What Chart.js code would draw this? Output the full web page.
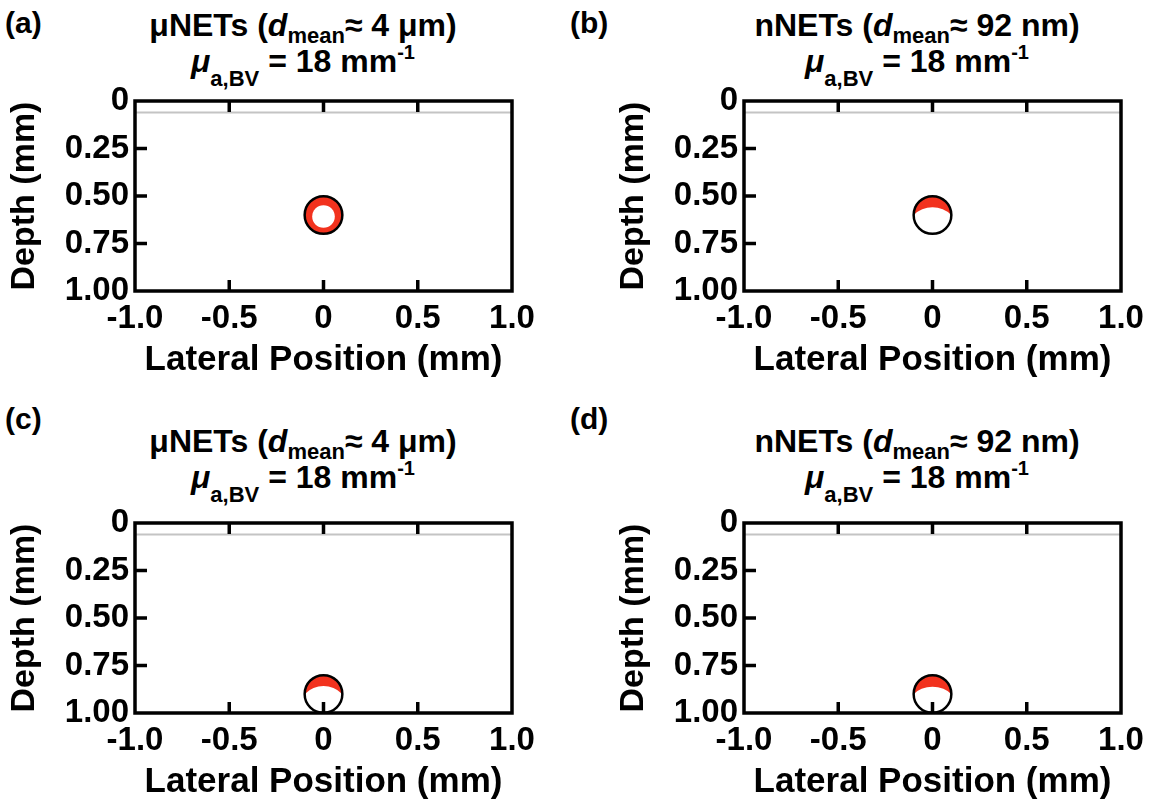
<!DOCTYPE html>
<html>
<head>
<meta charset="utf-8">
<script src="https://cdn.jsdelivr.net/npm/chart.js"></script>
<style>
	body { margin: 0; width: 1157px; height: 806px; overflow: hidden; background: #fff; position: relative; font-family: "Liberation Sans", Arial, sans-serif; }
	canvas { position: absolute; }
	.lbl { position: absolute; font: bold 30px "Liberation Sans", Arial, sans-serif; line-height: 34px; }
	.ttl { position: absolute; transform: translateX(-50%); text-align: center; white-space: nowrap; font: bold 32px "Liberation Sans", Arial, sans-serif; line-height: 36px; }
	.ttl sub { font-size: 22px; line-height: 0; vertical-align: -7px; }
	.ttl sub.big { vertical-align: -14px; }
	.ttl sup { font-size: 20px; line-height: 0; vertical-align: 13px; }
</style>
</head>
<body>
	<div class="lbl" style="left:5px;top:6px">(a)</div>
	<div class="ttl" style="left:303px;top:7px">μNETs (<i>d</i><sub>mean</sub>≈ 4 μm)<br><i>μ</i><sub class="big">a,BV</sub> = 18 mm<sup>-1</sup></div>
	<div class="lbl" style="left:570px;top:6px">(b)</div>
	<div class="ttl" style="left:917px;top:7px">nNETs (<i>d</i><sub>mean</sub>≈ 92 nm)<br><i>μ</i><sub class="big">a,BV</sub> = 18 mm<sup>-1</sup></div>
	<div class="lbl" style="left:5px;top:402px">(c)</div>
	<div class="ttl" style="left:303px;top:423px">μNETs (<i>d</i><sub>mean</sub>≈ 4 μm)<br><i>μ</i><sub class="big">a,BV</sub> = 18 mm<sup>-1</sup></div>
	<div class="lbl" style="left:570px;top:402px">(d)</div>
	<div class="ttl" style="left:917px;top:423px">nNETs (<i>d</i><sub>mean</sub>≈ 92 nm)<br><i>μ</i><sub class="big">a,BV</sub> = 18 mm<sup>-1</sup></div>

	<canvas id="pa" width="545" height="311" style="left:0px;top:70px"></canvas>
	<canvas id="pb" width="545" height="311" style="left:609px;top:70px"></canvas>
	<canvas id="pc" width="545" height="311" style="left:0px;top:492px"></canvas>
	<canvas id="pd" width="545" height="311" style="left:609px;top:492px"></canvas>

<script>
	// data (mm)
	const lateralTicks = [-1, -0.5, 0, 0.5, 1];
	const lateralTickLabels = ["-1.0", "-0.5", "0", "0.5", "1.0"];
	const depthTicks = [0, 0.25, 0.5, 0.75, 1];
	const depthTickLabels = ["0", "0.25", "0.50", "0.75", "1.00"];
	const vesselX = [0, 0, 0, 0];
	const vesselDepth = [0.6, 0.6, 0.9, 0.9];
	const vesselRadius = [0.1, 0.1, 0.1, 0.1];
	const surfaceDepth = [0.06, 0.06, 0.06, 0.06];

	// look of the unheated (white) part inside each vessel, in vessel radii
	const innerLook = [
		{ dy: 0.08, size: 0.6 },
		{ dy: 1.0, size: 1.42 },
		{ dy: 0.95, size: 1.38 },
		{ dy: 1.1, size: 1.5 },
	];

	const font = "'Liberation Sans', Arial, sans-serif";

	// box round the plot + ticks pointing inward
	const frame = {
		id: "frame",
		afterDraw(chart) {
			const ctx = chart.ctx;
			const a = chart.chartArea;
			const x = chart.scales.x;
			const y = chart.scales.y;
			ctx.save();
			ctx.fillStyle = "#000";
			for (let k = 1; k < lateralTicks.length - 1; k++) {
				const px = x.getPixelForValue(lateralTicks[k]);
				ctx.fillRect(px - 1.75, a.bottom - 11, 3.5, 11);
				ctx.fillRect(px - 1.75, a.top, 3.5, 11);
			}
			for (let k = 1; k < depthTicks.length - 1; k++) {
				const py = y.getPixelForValue(depthTicks[k]);
				ctx.fillRect(a.left, py - 1.75, 12, 3.5);
			}
			ctx.strokeStyle = "#000";
			ctx.lineWidth = 3.5;
			ctx.strokeRect(a.left, a.top, a.right - a.left, a.bottom - a.top);
			ctx.restore();
		},
	};

	function pxRadius(chart, r) {
		const s = chart.scales.x;
		return Math.abs(s.getPixelForValue(r) - s.getPixelForValue(0));
	}

	function panel(id, i) {
		const r = vesselRadius[i];
		const look = innerLook[i];
		new Chart(document.getElementById(id), {
			type: "scatter",
			data: {
				datasets: [
					{
						type: "line",
						order: 4,
						data: [
							{ x: -1, y: surfaceDepth[i] },
							{ x: 1, y: surfaceDepth[i] },
						],
						borderColor: "#c4c4c4",
						borderWidth: 2,
						pointRadius: 0,
					},
					{
						order: 3,
						data: [{ x: vesselX[i], y: vesselDepth[i] }],
						backgroundColor: "#f2321e",
						borderWidth: 0,
						pointRadius: (c) => pxRadius(c.chart, r),
					},
					{
						order: 2,
						data: [{ x: vesselX[i], y: vesselDepth[i] + look.dy * r }],
						backgroundColor: "#ffffff",
						borderWidth: 0,
						pointRadius: (c) => pxRadius(c.chart, r * look.size),
					},
					{
						order: 1,
						data: [{ x: vesselX[i], y: vesselDepth[i] }],
						backgroundColor: "rgba(0,0,0,0)",
						borderColor: "#000",
						borderWidth: 2.5,
						pointRadius: (c) => pxRadius(c.chart, r),
					},
				],
			},
			options: {
				responsive: false,
				animation: false,
				events: [],
				layout: { padding: { left: 0, right: 33, top: 31, bottom: 0 } },
				plugins: { legend: { display: false }, tooltip: { enabled: false } },
				scales: {
					x: {
						type: "linear",
						min: -1,
						max: 1,
						afterBuildTicks: (s) => { s.ticks = lateralTicks.map((v) => ({ value: v })); },
						afterFit: (s) => { s.height = 90; },
						grid: { display: false, drawTicks: false },
						border: { display: false },
						ticks: {
							padding: 8,
							color: "#000",
							font: { family: font, size: 33, weight: "bold" },
							maxRotation: 0,
							callback: (v) => lateralTickLabels[lateralTicks.indexOf(v)],
						},
						title: {
							display: true,
							text: "Lateral Position (mm)",
							color: "#000",
							padding: { top: 0, bottom: 0 },
							font: { family: font, size: 35, weight: "bold" },
						},
					},
					y: {
						type: "linear",
						reverse: true,
						min: 0,
						max: 1,
						afterBuildTicks: (s) => { s.ticks = depthTicks.map((v) => ({ value: v })); },
						afterFit: (s) => { s.width = 135; },
						grid: { display: false, drawTicks: false },
						border: { display: false },
						ticks: {
							padding: 6,
							color: "#000",
							font: { family: font, size: 33, weight: "bold" },
							callback: (v) => depthTickLabels[depthTicks.indexOf(v)],
						},
						title: {
							display: true,
							text: "Depth (mm)",
							color: "#000",
							padding: { top: 4, bottom: 0 },
							font: { family: font, size: 34, weight: "bold" },
						},
					},
				},
			},
			plugins: [frame],
		});
	}

	["pa", "pb", "pc", "pd"].forEach(panel);
</script>
</body>
</html>
